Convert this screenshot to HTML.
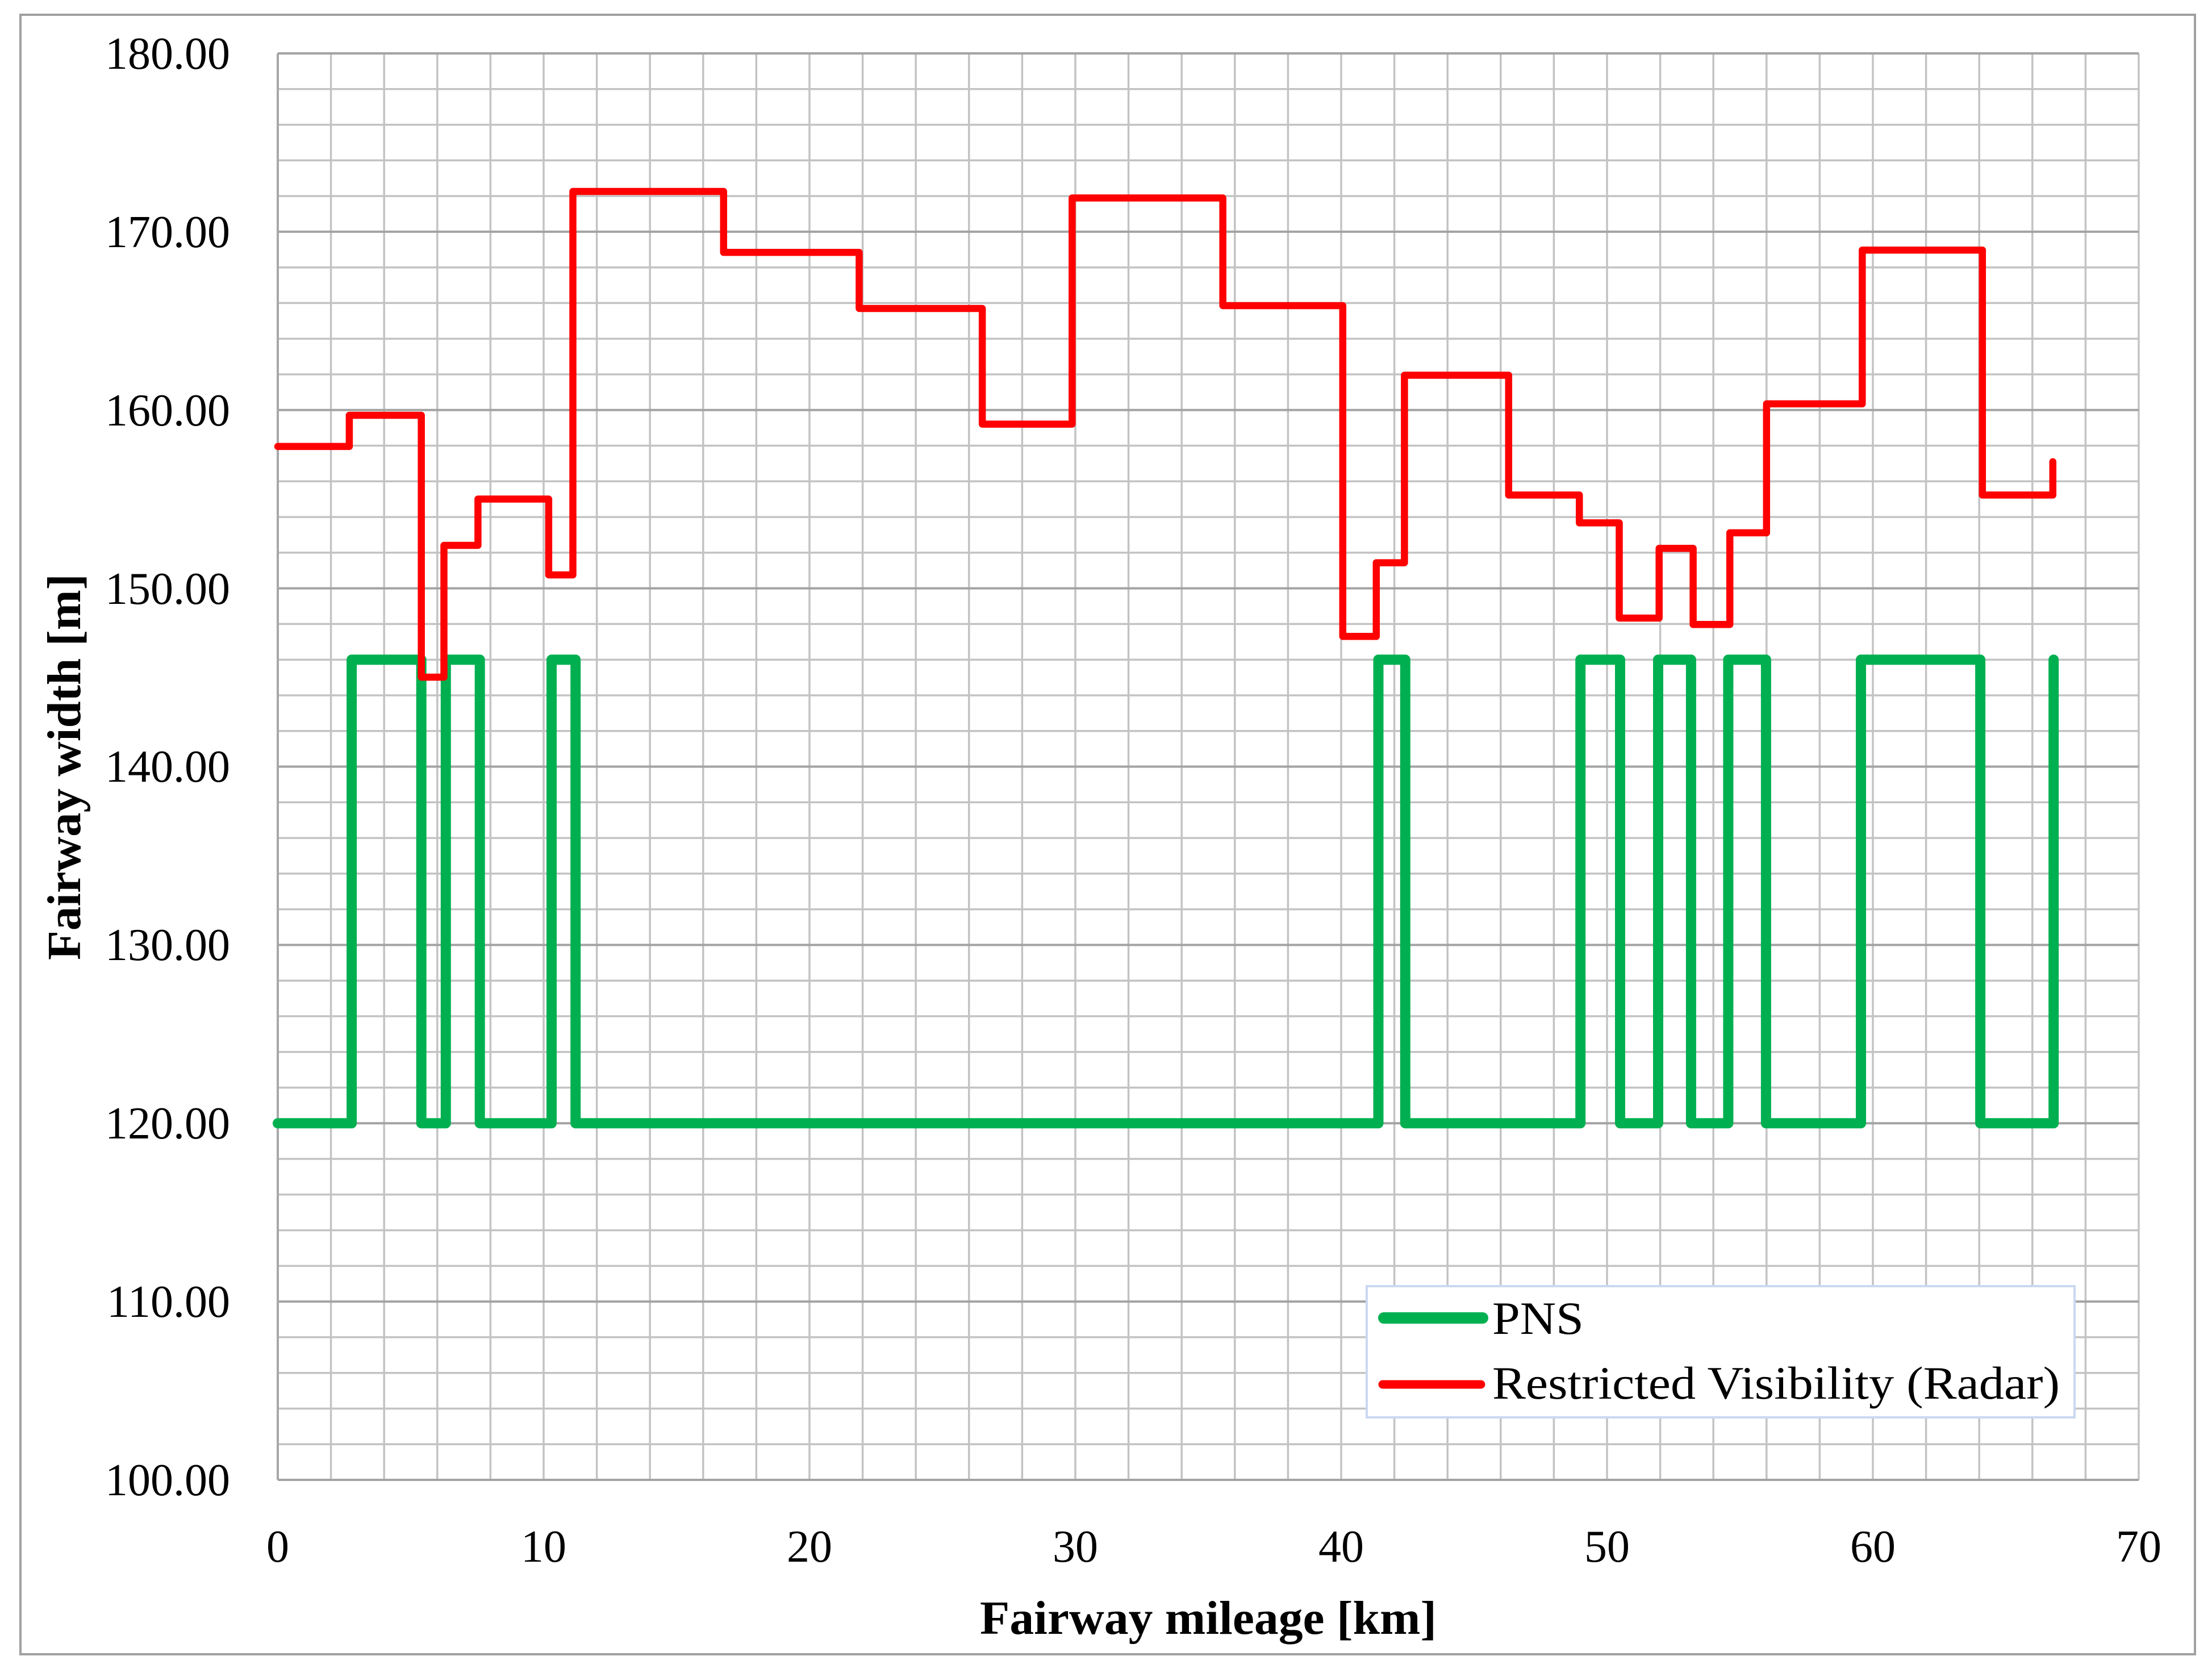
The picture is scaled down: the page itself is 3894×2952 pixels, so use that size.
<!DOCTYPE html>
<html>
<head>
<meta charset="utf-8">
<style>
  html, body { margin: 0; padding: 0; background: #ffffff; }
  svg { display: block; }
  text { font-family: "Liberation Serif", "DejaVu Serif", serif; fill: #000; }
</style>
</head>
<body>
<svg xmlns="http://www.w3.org/2000/svg" width="3894" height="2952" viewBox="0 0 3894 2952">
  <rect x="0" y="0" width="3894" height="2952" fill="#ffffff"/>
  <!-- outer frame -->
  <rect x="36" y="26" width="3828" height="2886" fill="#ffffff" stroke="#a0a0a0" stroke-width="4"/>

  <!-- minor vertical grid -->
  <path stroke="#c3c3c3" stroke-width="3.5" fill="none" d="
    M489,94V2605 M582.6,94V2605 M676.2,94V2605 M769.8,94V2605 M863.4,94V2605 M957,94V2605
    M1050.6,94V2605 M1144.2,94V2605 M1237.8,94V2605 M1331.4,94V2605 M1425,94V2605 M1518.6,94V2605
    M1612.2,94V2605 M1705.8,94V2605 M1799.4,94V2605 M1893,94V2605 M1986.6,94V2605 M2080.2,94V2605
    M2173.8,94V2605 M2267.4,94V2605 M2361,94V2605 M2454.6,94V2605 M2548.2,94V2605 M2641.8,94V2605
    M2735.4,94V2605 M2829,94V2605 M2922.6,94V2605 M3016.2,94V2605 M3109.8,94V2605 M3203.4,94V2605
    M3297,94V2605 M3390.6,94V2605 M3484.2,94V2605 M3577.8,94V2605 M3671.4,94V2605 M3765,94V2605"/>
  <!-- minor horizontal grid -->
  <path stroke="#c3c3c3" stroke-width="3.5" fill="none" d="
    M489,2542.2H3765 M489,2479.5H3765 M489,2416.7H3765 M489,2353.9H3765
    M489,2228.4H3765 M489,2165.6H3765 M489,2102.8H3765 M489,2040H3765
    M489,1914.5H3765 M489,1851.7H3765 M489,1788.9H3765 M489,1726.2H3765
    M489,1600.6H3765 M489,1537.8H3765 M489,1475.1H3765 M489,1412.3H3765
    M489,1286.7H3765 M489,1224H3765 M489,1161.2H3765 M489,1098.4H3765
    M489,972.9H3765 M489,910.1H3765 M489,847.3H3765 M489,784.5H3765
    M489,659H3765 M489,596.2H3765 M489,533.4H3765 M489,470.7H3765
    M489,345.1H3765 M489,282.3H3765 M489,219.6H3765 M489,156.8H3765"/>
  <!-- major horizontal grid -->
  <path stroke="#a3a3a3" stroke-width="4" fill="none" d="
    M489,2605H3765 M489,2291.1H3765 M489,1977.3H3765 M489,1663.4H3765 M489,1349.5H3765
    M489,1035.6H3765 M489,721.8H3765 M489,407.9H3765 M489,94H3765"/>
  <!-- left axis slightly darker -->
  <path stroke="#a8a8a8" stroke-width="4" fill="none" d="M489,94V2605"/>

  <!-- PNS series -->
  <path fill="none" stroke="#00b050" stroke-width="18" stroke-linejoin="round" stroke-linecap="round" d="
    M489,1977.3 H619.1 V1161.2 H741.7 V1977.3 H784.8 V1161.2 H844.7 V1977.3 H971 V1161.2 H1013.2 V1977.3
    H2426.5 V1161.2 H2473.8 V1977.3 H2782.2 V1161.2 H2852 V1977.3 H2919 V1161.2 H2976.9 V1977.3
    H3042.4 V1161.2 H3108.9 V1977.3 H3276 V1161.2 H3486.1 V1977.3 H3615.2 V1161.2"/>

  <!-- Restricted Visibility (Radar) series -->
  <path fill="none" stroke="#ff0000" stroke-width="12.5" stroke-linejoin="round" stroke-linecap="round" d="
    M489,785.9 H614.9 V731 H741.7 V1192 H781.5 V960 H841.4 V878.5 H965.9 V1012 H1008.5 V337
    H1273.8 V444.3 H1512.5 V543 H1729.2 V746.6 H1887.4 V348.5 H2152.7 V538 H2363.8 V1120.3
    H2422.8 V990.6 H2472.4 V660.5 H2655.8 V871.4 H2780.3 V920.4 H2850.5 V1088 H2920.7 V965.3
    H2980.6 V1099.3 H3045.2 V937.9 H3109.8 V710.9 H3278.3 V440.3 H3489.8 V871.4 H3613.8 V812.8"/>

  <!-- Y tick labels -->
  <g font-size="80" text-anchor="end">
    <text x="405" y="121">180.00</text>
    <text x="405" y="435">170.00</text>
    <text x="405" y="749">160.00</text>
    <text x="405" y="1063">150.00</text>
    <text x="405" y="1376">140.00</text>
    <text x="405" y="1690">130.00</text>
    <text x="405" y="2004">120.00</text>
    <text x="405" y="2318">110.00</text>
    <text x="405" y="2632">100.00</text>
  </g>

  <!-- X tick labels -->
  <g font-size="80" text-anchor="middle">
    <text x="489" y="2749">0</text>
    <text x="957" y="2749">10</text>
    <text x="1425" y="2749">20</text>
    <text x="1893" y="2749">30</text>
    <text x="2361" y="2749">40</text>
    <text x="2829" y="2749">50</text>
    <text x="3297" y="2749">60</text>
    <text x="3765" y="2749">70</text>
  </g>

  <!-- Axis titles -->
  <text x="2127" y="2876" font-size="84" font-weight="bold" text-anchor="middle" textLength="804" lengthAdjust="spacingAndGlyphs">Fairway mileage [km]</text>
  <text transform="translate(141,1350) rotate(-90)" x="0" y="0" font-size="84" font-weight="bold" text-anchor="middle" textLength="680" lengthAdjust="spacingAndGlyphs">Fairway width [m]</text>

  <!-- Legend -->
  <rect x="2406" y="2264" width="1246" height="231" fill="#ffffff" stroke="#c9d9ef" stroke-width="4"/>
  <line x1="2436" y1="2320" x2="2610" y2="2320" stroke="#00b050" stroke-width="20" stroke-linecap="round"/>
  <line x1="2434" y1="2437" x2="2607" y2="2437" stroke="#ff0000" stroke-width="15" stroke-linecap="round"/>
  <text x="2627" y="2348" font-size="82" textLength="161" lengthAdjust="spacingAndGlyphs">PNS</text>
  <text x="2627" y="2462" font-size="82" textLength="999" lengthAdjust="spacingAndGlyphs">Restricted Visibility (Radar)</text>
</svg>
</body>
</html>
